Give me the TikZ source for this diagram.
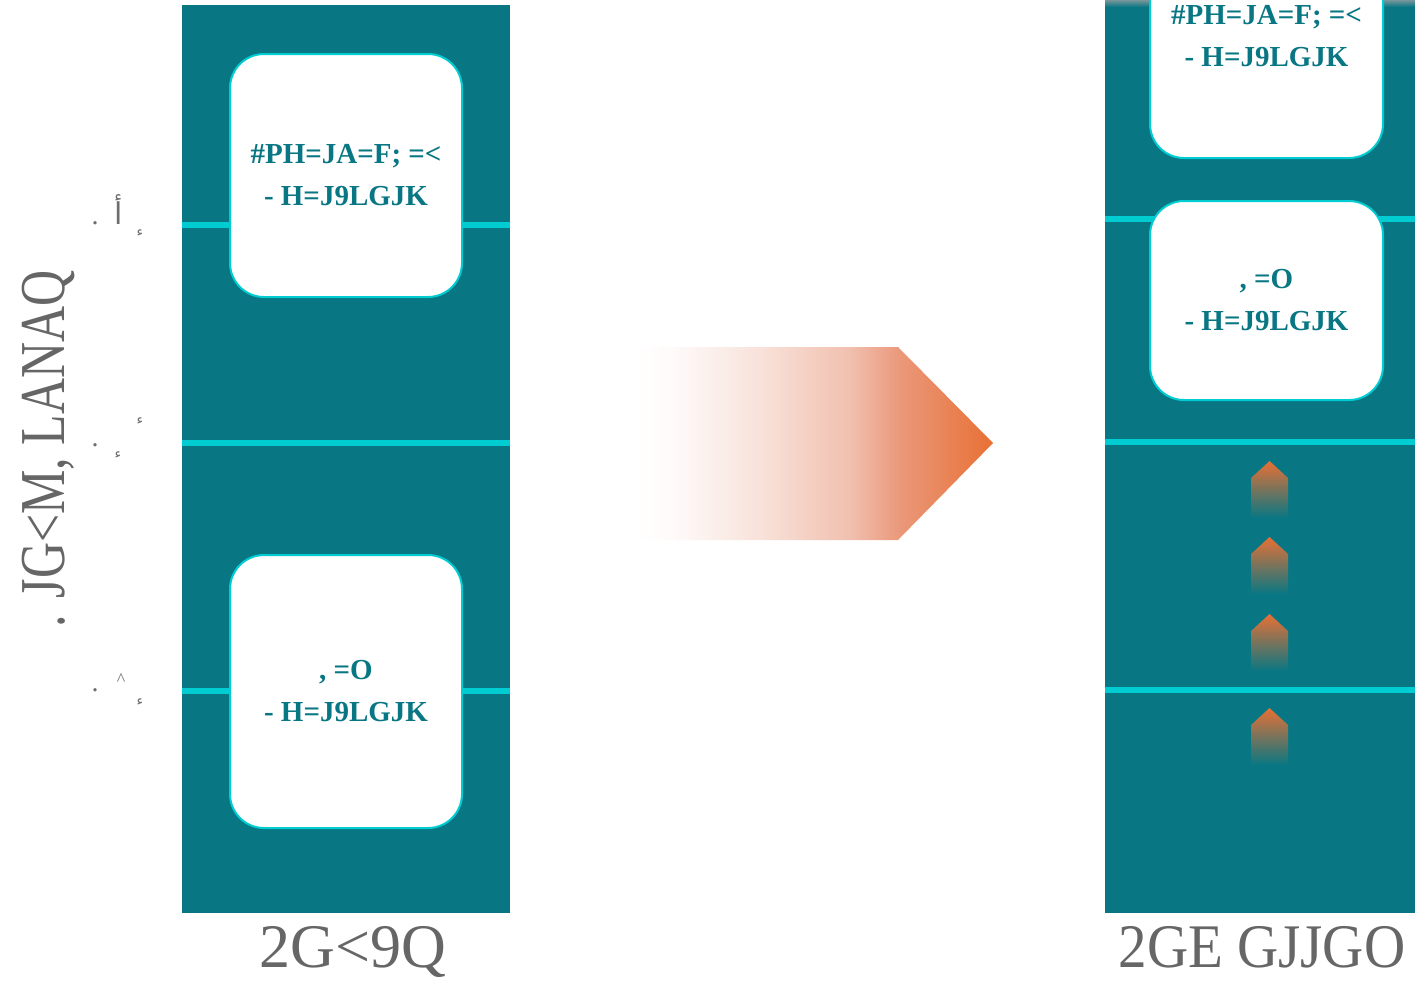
\documentclass[tikz,border=0pt]{standalone}
\usepackage{fontspec}
\setmainfont{Liberation Serif}
\newfontfamily\arabicfont[Script=Arabic]{DejaVu Sans}
\definecolor{teal1}{RGB}{8,119,131}
\definecolor{teal0}{RGB}{120,150,156}
\definecolor{cyan1}{RGB}{0,204,209}
\definecolor{orange1}{RGB}{232,112,52}
\definecolor{gray1}{RGB}{102,102,102}
\definecolor{gray2}{RGB}{110,110,110}
\definecolor{ar0}{RGB}{254,251,250}
\definecolor{ar1}{RGB}{248,226,218}
\definecolor{ar2}{RGB}{241,192,175}
\definecolor{ar3}{RGB}{234,152,122}
\pgfdeclarehorizontalshading{bigarr}{100bp}{color(0bp)=(white); color(25bp)=(white);
  color(30bp)=(ar0); color(42.5bp)=(ar1); color(55bp)=(ar2); color(62bp)=(ar3);
  color(75bp)=(orange1); color(100bp)=(orange1)}
\begin{document}
\begin{tikzpicture}[x=1pt,y=-1pt,
  sep/.style={draw=cyan1, line width=5.5pt},
  card/.style={draw=cyan1, line width=2pt, fill=white, rounded corners=34pt,
    inner sep=0pt, text=teal1, align=center,
    font=\fontsize{29}{42}\selectfont\bfseries},
  lab/.style={text=gray1, inner sep=0pt},
  tiny/.style={text=gray2, inner sep=0pt},
  uparr/.pic={\shade[top color=orange1, bottom color=teal1]
    (-18.5,17) -- (0,0) -- (18.5,17) -- (18.5,57) -- (-18.5,57) -- cycle;}
]
\useasboundingbox (0,0) rectangle (1415,980);
\fill[white] (0,0) rectangle (1415,980);

% left column
\fill[teal1] (182,5) rectangle (510,913);
\draw[sep] (182,225) -- (510,225);
\draw[sep] (182,443) -- (510,443);
\draw[sep] (182,691) -- (510,691);
\node[card, minimum width=232pt, minimum height=243pt] (b1) at (346,175.5)
  {\#PH=JA=F; =<\\- H=J9LGJK};
\node[card, minimum width=232pt, minimum height=273pt] (b2) at (346,691.5)
  {, =O\\- H=J9LGJK};
\node[lab, anchor=base, font=\fontsize{62}{62}\selectfont] (t1) at (353,967)
  {2G<9Q};

% rotated side label
\node[lab, anchor=base, rotate=90, font=\fontsize{64}{64}\selectfont] (side) at (64,449)
  {\scalebox{0.78}[1]{. JG<M, LANAQ}};

% small marks
\node[tiny, font=\fontsize{28}{28}\selectfont] (d1) at (95,223) {.};
\node[tiny, font=\arabicfont\fontsize{30}{30}\selectfont] (a1) at (119,210) {أ};
\node[tiny, font=\arabicfont\fontsize{14}{14}\selectfont] (h1) at (140,233) {ء};
\node[tiny, font=\arabicfont\fontsize{14}{14}\selectfont] (h2) at (140,421) {ء};
\node[tiny, font=\fontsize{28}{28}\selectfont] (d2) at (95,445) {.};
\node[tiny, font=\arabicfont\fontsize{14}{14}\selectfont] (h3) at (118,455) {ء};
\node[tiny, font=\fontsize{18}{18}\selectfont] (c1) at (121,680) {\^{}};
\node[tiny, font=\fontsize{28}{28}\selectfont] (d3) at (95,690) {.};
\node[tiny, font=\arabicfont\fontsize{14}{14}\selectfont] (h4) at (140,702) {ء};

% big arrow
\shade[shading=bigarr]
  (635,347) -- (898,347) -- (993,443) -- (898,540) -- (635,540) -- cycle;

% right column
\fill[teal1] (1105,0) rectangle (1415,913);
\shade[top color=teal0, bottom color=teal1] (1105,0) rectangle (1415,7);
\draw[sep] (1105,219) -- (1415,219);
\draw[sep] (1105,442) -- (1415,442);
\draw[sep] (1105,690) -- (1415,690);
\node[card, minimum width=233pt, minimum height=244pt] (b3) at (1266.5,36)
  {\#PH=JA=F; =<\\- H=J9LGJK};
\node[card, minimum width=233pt, minimum height=199pt] (b4) at (1266.5,300.5)
  {, =O\\- H=J9LGJK};
\pic at (1269.5,461) {uparr};
\pic at (1269.5,537) {uparr};
\pic at (1269.5,614) {uparr};
\pic at (1269.5,708) {uparr};
\node[lab, anchor=base, font=\fontsize{62}{62}\selectfont] (t2) at (1262,967)
  {\scalebox{0.92}[1]{2GE GJJGO}};
\end{tikzpicture}
\end{document}
